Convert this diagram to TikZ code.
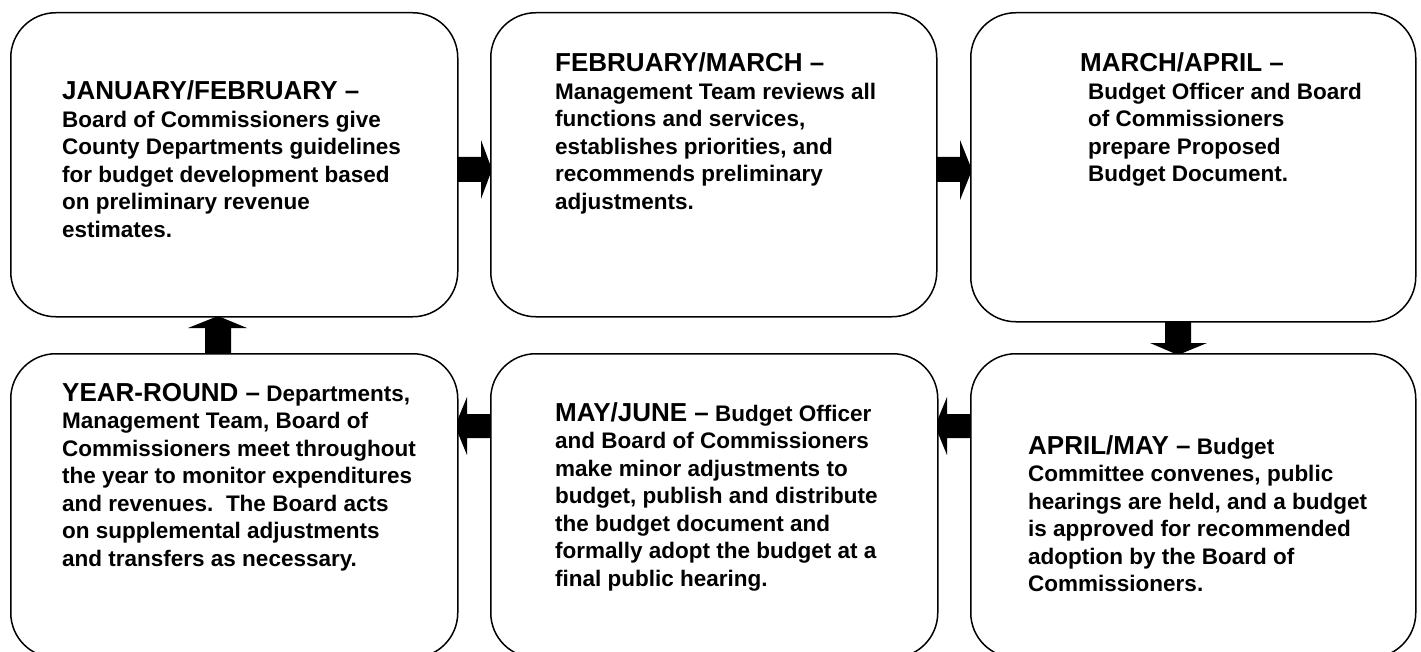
\documentclass[tikz,border=0pt]{standalone}
\usepackage{fontspec}
\setmainfont{Liberation Sans}
\begin{document}
\begin{tikzpicture}[x=1pt,y=-1pt,
  box/.style={draw,line width=1.5pt,rounded corners=45pt,fill=white,anchor=north west,inner sep=0pt},
  blockarrow/.style={fill=black},
  txt/.style={anchor=base west,inner sep=0pt,font=\bfseries\fontsize{22.5}{27.5}\selectfont},
  ]
\useasboundingbox (0,0) rectangle (1421,652);
\clip (0,0) rectangle (1421,652);
\newcommand\ttl[1]{{\fontsize{26}{27.5}\selectfont #1}}
\newcommand\lines[1]{\begin{tabular}[t]{@{}l@{}}#1\end{tabular}}
% block arrows (drawn first, boxes cover their ends)
\fill[blockarrow] (440,157) -- (481,157) -- (481,140) -- (492,169.5) -- (481,199) -- (481,182) -- (440,182) -- cycle;
\fill[blockarrow] (920,157) -- (960,157) -- (960,140) -- (972,170) -- (960,200) -- (960,182) -- (920,182) -- cycle;
\fill[blockarrow] (1165,300) -- (1165,343) -- (1150,343) -- (1178,355) -- (1207,343) -- (1191,343) -- (1191,300) -- cycle;
\fill[blockarrow] (205,370) -- (205,328) -- (188,328) -- (218,316) -- (247,328) -- (231,328) -- (231,370) -- cycle;
\fill[blockarrow] (990,414) -- (947,414) -- (947,397) -- (935,426) -- (947,455) -- (947,438) -- (990,438) -- cycle;
\fill[blockarrow] (510,414) -- (467,414) -- (467,397) -- (455,426) -- (467,455) -- (467,438) -- (510,438) -- cycle;
% boxes
\node[box,minimum width=447pt,minimum height=304pt] (b1) at (10,12) {};
\node[box,minimum width=446pt,minimum height=304pt] (b2) at (490,12) {};
\node[box,minimum width=445pt,minimum height=309pt] (b3) at (970,12) {};
\node[box,minimum width=447pt,minimum height=304pt] (b4) at (10,353) {};
\node[box,minimum width=447pt,minimum height=304pt] (b5) at (490,353) {};
\node[box,minimum width=445pt,minimum height=304pt] (b6) at (970,353) {};
% texts
\node[txt] (t1) at (62,100) {\lines{\ttl{JANUARY/FEBRUARY –}\\Board of Commissioners give\\County Departments guidelines\\for budget development based\\on preliminary revenue\\estimates.}};
\node[txt] (t2) at (555,72) {\lines{\ttl{FEBRUARY/MARCH –}\\Management Team reviews all\\functions and services,\\establishes priorities, and\\recommends preliminary\\adjustments.}};
\node[txt] (t3) at (1080,72) {\lines{\ttl{MARCH/APRIL –}\\\hspace*{8pt}Budget Officer and Board\\\hspace*{8pt}of Commissioners\\\hspace*{8pt}prepare Proposed\\\hspace*{8pt}Budget Document.}};
\node[txt] (t4) at (62,401) {\lines{\ttl{YEAR-ROUND –} Departments,\\Management Team, Board of\\Commissioners meet throughout\\the year to monitor expenditures\\and revenues.\ \ The Board acts\\on supplemental adjustments\\and transfers as necessary.}};
\node[txt] (t5) at (555,421) {\lines{\ttl{MAY/JUNE –} Budget Officer\\and Board of Commissioners\\make minor adjustments to\\budget, publish and distribute\\the budget document and\\formally adopt the budget at a\\final public hearing.}};
\node[txt] (t6) at (1028,454) {\lines{\ttl{APRIL/MAY –} Budget\\Committee convenes, public\\hearings are held, and a budget\\is approved for recommended\\adoption by the Board of\\Commissioners.}};
\end{tikzpicture}
\end{document}
